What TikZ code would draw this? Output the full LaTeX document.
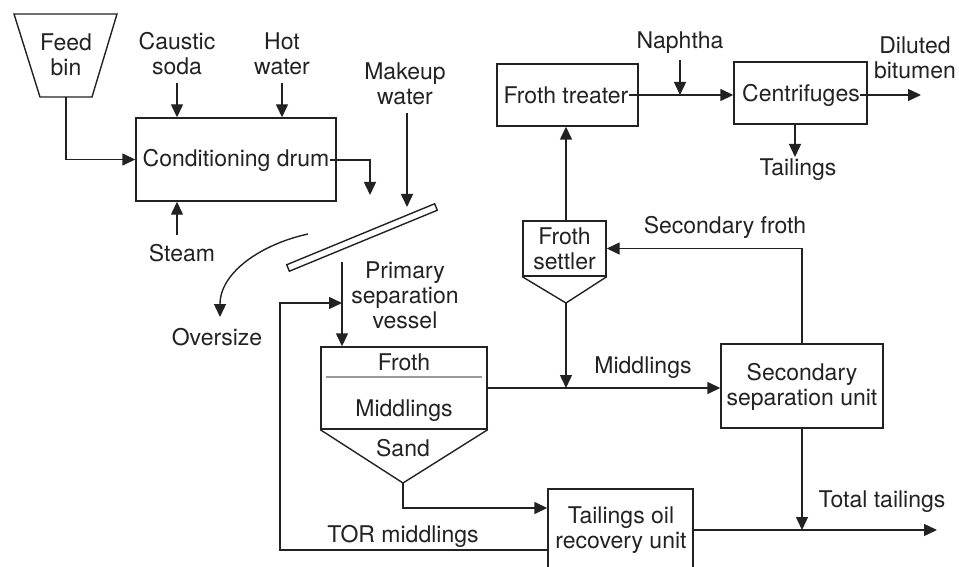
\documentclass[tikz,border=0pt]{standalone}
\usepackage{fontspec}
\setmainfont{TeX Gyre Heros}
\usetikzlibrary{arrows.meta,calc}
\definecolor{ink}{HTML}{222222}
\begin{document}
\begin{tikzpicture}[x=1pt,y=-1pt,
  every node/.style={text=ink},
  txt/.style={align=center, inner sep=0pt, font=\fontsize{23}{25}\selectfont},
  unit/.style={draw=ink, line width=1.4pt, inner sep=0pt},
  edge/.style={draw=ink, line width=1.4pt},
  flow/.style={edge, -{Triangle[length=13pt,width=12pt]}},
]
\useasboundingbox (0,0) rectangle (959,567);
\clip (0,0) rectangle (959,567);

% ---------- feed and conditioning ----------
\draw[edge] (14,14) -- (117,14) -- (92,97) -- (40,97) -- cycle;
\coordinate (binout) at (66,97);
\node[txt] (feed) at (66,55) {Feed\\bin};

\node[unit, minimum width=200, minimum height=83] (drum) at (236,159.5) {};
\node[txt] (drumtxt) at (236,160) {Conditioning drum};

\node[txt] (caustic) at (177,54) {Caustic\\soda};
\node[txt] (hot) at (282,54) {Hot\\water};
\node[txt] (steam) at (182,253) {Steam};
\coordinate (causticin) at (177,83);
\coordinate (hotin) at (282,83);
\coordinate (steamin) at (177,235);

\draw[flow] (binout) |- (drum.west);
\draw[flow] (causticin) -- (causticin |- drum.north);
\draw[flow] (hotin) -- (hotin |- drum.north);
\draw[flow] (steamin) -- (steamin |- drum.south);

% ---------- screen ----------
\coordinate (drop) at (370,195);
\draw[flow] (drumtxt.east) -| (drop);

\node[txt] (makeup) at (405,84) {Makeup\\water};
\coordinate (makeupin) at (407,113);
\coordinate (makeupout) at (407,207);
\draw[flow] (makeupin) -- (makeupout);

\node[unit, minimum width=160, minimum height=7, rotate=22.4] (screen) at (362,237.5) {};

\coordinate (overstart) at (308,234);
\coordinate (overend) at (220,317);
\draw[flow] (overstart) .. controls (262,244) and (220,272) .. (overend);
\node[txt] (oversize) at (217,337) {Oversize};

% ---------- primary separation vessel ----------
\node[unit, minimum width=166, minimum height=82] (vessel) at (404,388) {};
\coordinate (vapex) at (403,483);
\draw[edge] (vessel.south west) -- (vapex) -- (vessel.south east);
\node[txt] (vfroth) at (404,362) {Froth};
\draw[draw=gray!80, line width=1.4pt] (326,377) -- (482,377);
\node[txt] (vmid) at (404,411) {Middlings};
\node[txt] (vsand) at (403,448) {Sand};
\node[txt] (pvlabel) at (405,295) {Primary\\separation\\vessel};

\coordinate (feedtop) at (342,262);
\draw[flow] (feedtop) -- (feedtop |- vessel.north);

% ---------- froth treatment ----------
\node[unit, minimum width=141, minimum height=62] (treater) at (567.5,95) {};
\node[txt] (treatertxt) at (566,95) {Froth treater};
\node[unit, minimum width=133, minimum height=62] (centri) at (800.5,93) {};
\node[txt] (centritxt) at (801,95) {Centrifuges};
\node[txt] (naphtha) at (680,43) {Naphtha};
\node[txt] (dilbit) at (915,58) {Diluted\\bitumen};
\node[txt] (ctail) at (798,170) {Tailings};
\coordinate (naphin) at (680,60);
\coordinate (dilout) at (921,95);
\coordinate (ctailin) at (795,124);
\coordinate (ctailout) at (795,157);

\draw[flow] (treatertxt.east) -- (treatertxt.east -| centri.west);
\draw[flow] (naphin) -- (naphin |- treatertxt.east);
\draw[flow] (centritxt.east) -- (dilout);
\draw[flow] (ctailin) -- (ctailout);

% ---------- froth settler ----------
\node[unit, minimum width=83, minimum height=55] (settler) at (564.5,248.5) {};
\node[txt] (settlertxt) at (564.5,249) {Froth\\settler};
\coordinate (sapex) at (566,303);
\draw[edge] (settler.south west) -- (sapex) -- (settler.south east);
\draw[flow] (sapex |- settler.north) -- (sapex |- treater.south);
\draw[flow] (sapex) -- (sapex |- vessel.east);

% ---------- secondary separation ----------
\node[unit, minimum width=162, minimum height=84] (second) at (802,386) {};
\node[txt] (secondtxt) at (802,387) {Secondary\\separation unit};
\node[txt] (midlabel) at (643,368) {Middlings};
\node[txt] (sfroth) at (725,227) {Secondary froth};
\draw[flow] (vessel.east) -- (vessel.east -| second.west);
\draw[flow] (second.north) |- (settler.east);

% ---------- tailings oil recovery ----------
\node[unit, minimum width=145, minimum height=82] (tor) at (620.5,530) {};
\node[txt] (tortxt) at (621,530) {Tailings oil\\recovery unit};
\node[txt] (torlabel) at (403,536) {TOR middlings};
\node[txt] (totlabel) at (882,502) {Total tailings};
\coordinate (totout) at (937,530);
\coordinate (torleft) at (280,303);

\draw[flow] (vapex) |- ([yshift=22pt]tor.west);
\draw[flow] ([yshift=-20pt]tor.west) -| (torleft) -- (torleft -| feedtop);
\draw[flow] (tor.east) -- (totout);
\draw[flow] (second.south) -- (second.south |- tor.east);
\end{tikzpicture}
\end{document}
